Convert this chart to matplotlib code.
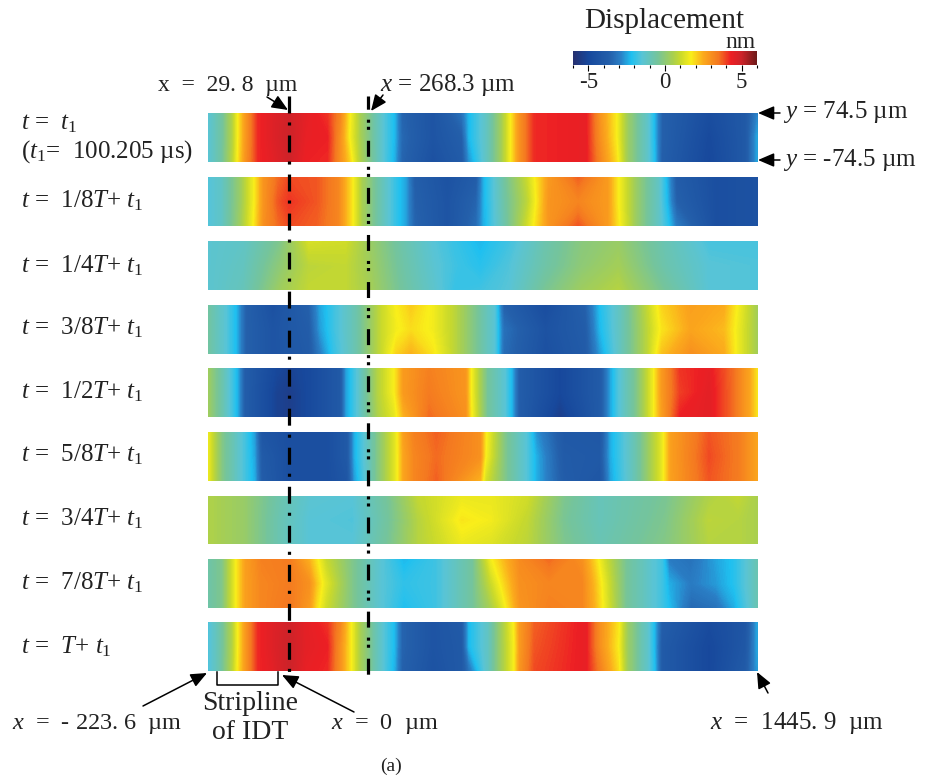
import numpy as np
import matplotlib
matplotlib.use("Agg")
import matplotlib.pyplot as plt
from matplotlib.colors import LinearSegmentedColormap, Normalize
from matplotlib.cm import ScalarMappable

plt.rcParams['font.family'] = ['Liberation Serif', 'DejaVu Serif']
plt.rcParams['mathtext.fontset'] = 'custom'
plt.rcParams['mathtext.rm'] = 'Liberation Serif'
plt.rcParams['mathtext.it'] = 'Liberation Serif:italic'
plt.rcParams['lines.scale_dashes'] = False

# positions along a strip, measured on the zoomed crops (22 = left edge, 1532 = right edge)
xs_1 = [22, 60, 90, 105, 125, 160, 200, 245, 290, 350, 385, 410, 440, 500, 535, 555, 640, 720, 740, 790, 830, 855, 880, 920, 1060, 1100, 1145, 1175, 1230, 1250, 1270, 1400, 1500, 1532]
mid_1 = [-1.5, -0.6, 0.7, 1.7, 2.8, 4.2, 4.6, 5.0, 4.4, 4.3, 3.0, 1.7, 0.5, -1.4, -2.3, -3.4, -4.3, -3.7, -2.3, -1.1, 0.4, 1.7, 3.0, 4.2, 4.4, 3.0, 1.7, 0.3, -1.3, -2.3, -3.6, -4.9, -4.0, -2.5]
top_1 = [-1.5, -0.6, 0.7, 1.7, 2.8, 4.2, 4.6, 4.9, 4.5, 4.1, 3.2, 1.8, 0.5, -1.4, -2.3, -3.5, -4.3, -3.2, -2.3, -1.1, 0.4, 1.7, 3.0, 4.2, 4.4, 2.9, 1.7, 0.3, -1.3, -2.3, -3.6, -4.7, -4.0, -2.9]
bot_1 = [-1.5, -0.6, 0.8, 1.8, 2.9, 4.2, 4.5, 4.9, 4.3, 4.2, 3.0, 2.1, 0.6, -1.4, -2.4, -3.5, -4.5, -3.9, -2.7, -1.1, 0.4, 1.7, 3.0, 4.2, 4.4, 3.2, 1.9, 0.3, -1.3, -2.2, -3.7, -5.0, -4.0, -2.5]

xs_2 = [22, 60, 110, 150, 175, 215, 245, 320, 380, 420, 445, 500, 540, 565, 590, 680, 760, 780, 840, 900, 925, 960, 1040, 1120, 1150, 1200, 1260, 1285, 1310, 1420, 1532]
mid_2 = [-1.6, -1.2, 0.2, 1.7, 2.9, 3.8, 4.1, 3.8, 3.2, 1.7, 0.5, -1.0, -2.0, -2.5, -3.6, -4.3, -3.5, -2.4, -0.6, 0.8, 1.7, 2.9, 3.2, 2.8, 1.7, 0.2, -1.2, -2.3, -3.6, -4.6, -4.4]
top_2 = [-1.6, -1.2, 0.2, 1.7, 2.9, 3.6, 3.9, 3.8, 3.2, 1.7, 0.5, -1.0, -2.0, -2.5, -3.7, -4.4, -3.8, -2.4, -0.5, 1.0, 1.8, 2.8, 3.7, 2.8, 1.7, 0.2, -1.2, -2.4, -3.8, -4.6, -4.4]
bot_2 = [-1.6, -1.2, 0.3, 1.8, 3.0, 3.6, 3.9, 3.7, 3.2, 1.7, 0.5, -1.0, -2.0, -2.5, -3.5, -4.3, -3.3, -2.4, -0.7, 1.1, 1.9, 2.9, 3.8, 2.8, 1.8, 0.2, -1.2, -2.0, -3.0, -4.6, -4.4]

xs_3 = [22, 120, 220, 300, 400, 470, 560, 640, 700, 770, 850, 950, 1050, 1150, 1280, 1400, 1532]
mid_3 = [-1.4, -1.1, 0.0, 0.8, 0.9, 0.3, -0.7, -1.4, -1.8, -2.1, -1.6, -0.7, 0.0, 0.4, -0.8, -1.5, -1.6]
top_3 = [-1.4, -1.2, -0.3, 1.2, 1.1, 0.2, -0.8, -1.5, -1.9, -2.3, -1.8, -0.8, -0.1, 0.2, -0.9, -1.7, -1.7]
bot_3 = [-1.4, -1.0, 0.3, 0.9, 0.9, 0.4, -0.6, -1.3, -1.9, -1.8, -1.5, -0.4, 0.3, 0.7, -0.5, -1.5, -1.6]

xs_4 = [22, 70, 100, 125, 200, 300, 330, 370, 430, 500, 540, 580, 640, 700, 760, 810, 835, 950, 1060, 1100, 1160, 1230, 1270, 1350, 1440, 1480, 1532]
mid_4 = [-0.6, -1.5, -2.3, -3.6, -4.3, -3.8, -2.6, -1.8, -0.8, 1.0, 1.6, 1.9, 1.6, 0.8, -0.4, -1.5, -3.2, -4.4, -3.8, -2.3, -1.0, 0.8, 1.8, 2.6, 2.3, 1.5, 0.4]
top_4 = [-0.6, -1.5, -2.3, -3.6, -4.5, -3.6, -2.5, -1.8, -0.8, 1.0, 1.7, 2.1, 1.6, 0.8, -0.4, -1.5, -3.6, -4.7, -3.6, -2.2, -1.0, 0.9, 2.0, 2.7, 2.5, 1.6, 0.4]
bot_4 = [-0.6, -1.5, -2.3, -3.6, -4.3, -3.9, -3.0, -1.9, -0.8, 1.0, 2.0, 2.4, 1.8, 0.8, -0.4, -1.5, -3.3, -4.5, -3.9, -2.6, -1.0, 0.8, 2.2, 3.0, 2.5, 1.5, 0.4]

xs_5 = [22, 60, 90, 105, 125, 210, 245, 300, 385, 400, 440, 490, 535, 560, 630, 730, 745, 790, 840, 860, 880, 990, 1100, 1130, 1150, 1200, 1245, 1270, 1320, 1400, 1470, 1510, 1532]
mid_5 = [0.3, -0.8, -1.8, -2.4, -3.8, -5.2, -5.4, -4.9, -4.0, -2.6, -1.2, 0.7, 1.7, 2.8, 3.4, 2.9, 1.7, -0.5, -1.5, -2.4, -3.8, -5.0, -3.9, -2.4, -1.6, -0.3, 1.5, 2.8, 4.0, 4.5, 3.5, 2.6, 1.8]
top_5 = [0.3, -0.8, -1.8, -2.4, -3.8, -5.0, -5.2, -4.9, -4.0, -2.6, -1.2, 0.7, 1.7, 2.8, 3.3, 2.9, 1.7, -0.5, -1.5, -2.4, -3.8, -5.0, -3.9, -2.4, -1.6, -0.3, 1.5, 2.8, 4.1, 4.4, 3.5, 2.6, 1.8]
bot_5 = [0.3, -0.8, -1.8, -2.4, -3.8, -5.2, -5.4, -4.9, -4.0, -2.6, -1.2, 0.6, 1.4, 2.4, 3.6, 3.0, 1.8, -0.5, -1.5, -2.4, -3.8, -5.4, -3.9, -2.4, -1.6, -0.3, 1.5, 2.7, 4.3, 4.5, 3.5, 2.6, 1.8]

xs_6 = [22, 60, 125, 150, 170, 245, 350, 405, 425, 480, 540, 560, 590, 650, 770, 785, 840, 900, 925, 1000, 1100, 1130, 1200, 1270, 1295, 1400, 1480, 1532]
mid_6 = [1.5, -0.2, -1.8, -2.5, -3.9, -4.6, -4.6, -4.0, -2.4, -0.5, 1.5, 2.6, 3.2, 3.6, 3.0, 1.7, -0.3, -1.6, -2.4, -3.9, -4.0, -2.4, -0.8, 1.4, 2.7, 3.9, 3.4, 2.6]
top_6 = [1.5, -0.2, -1.8, -2.6, -4.2, -4.6, -4.6, -4.0, -2.4, -0.5, 1.5, 2.7, 3.3, 3.7, 3.0, 1.8, -0.3, -1.6, -2.7, -4.0, -4.1, -2.4, -0.8, 1.4, 2.7, 3.8, 3.4, 2.6]
bot_6 = [1.5, -0.2, -1.8, -2.4, -3.8, -4.6, -4.6, -4.2, -2.6, -0.5, 1.5, 2.6, 3.2, 3.7, 2.4, 1.2, -0.3, -1.6, -2.4, -3.8, -4.2, -2.5, -0.8, 1.4, 2.7, 3.8, 3.4, 2.6]

xs_7 = [22, 120, 220, 300, 420, 520, 600, 720, 800, 900, 1000, 1100, 1280, 1400, 1480, 1532]
mid_7 = [0.6, 0.2, -0.9, -1.5, -1.6, -0.5, 0.7, 1.8, 1.6, 0.9, -0.4, -1.0, -0.3, 0.8, 0.7, 0.5]
top_7 = [0.6, 0.2, -0.8, -1.4, -1.5, -0.4, 0.9, 1.5, 1.5, 1.1, -0.3, -1.0, -0.4, 0.6, 0.9, 0.5]
bot_7 = [0.6, 0.2, -0.9, -1.5, -1.5, -0.4, 0.7, 1.5, 1.3, 0.8, -0.3, -0.9, -0.2, 0.7, 0.7, 0.5]

xs_8 = [22, 60, 100, 125, 170, 245, 300, 320, 345, 420, 500, 560, 650, 750, 800, 830, 880, 960, 1050, 1085, 1110, 1170, 1270, 1290, 1350, 1420, 1470, 1532]
mid_8 = [-0.7, -0.3, 1.7, 2.7, 3.2, 3.4, 3.0, 2.2, 1.4, -0.3, -1.5, -2.0, -1.8, -0.5, 1.0, 1.8, 3.0, 3.2, 3.2, 2.3, 1.5, -0.4, -1.8, -2.4, -3.0, -2.6, -2.1, -0.9]
top_8 = [-0.7, -0.3, 1.7, 2.7, 3.3, 3.4, 2.4, 1.8, 1.0, -0.3, -1.5, -2.3, -1.8, -0.5, 1.6, 2.2, 3.1, 3.6, 3.0, 2.0, 1.2, -0.4, -1.8, -3.0, -3.2, -2.5, -2.1, -0.9]
bot_8 = [-0.7, -0.3, 1.7, 2.7, 3.2, 3.5, 2.8, 1.9, 1.1, -0.3, -1.5, -2.2, -1.8, -0.5, 0.5, 1.3, 2.9, 3.3, 3.2, 2.4, 1.6, -0.4, -1.8, -2.2, -3.4, -3.2, -2.4, -0.9]

xs_9 = [22, 60, 90, 105, 125, 160, 200, 245, 290, 350, 385, 415, 440, 500, 535, 555, 640, 720, 740, 790, 830, 865, 880, 920, 1060, 1100, 1150, 1175, 1230, 1250, 1270, 1400, 1500, 1532]
mid_9 = [-1.7, -0.6, 0.7, 1.7, 2.8, 4.2, 4.6, 5.0, 4.5, 4.3, 3.0, 1.7, 0.5, -1.4, -2.3, -3.5, -4.3, -4.0, -2.3, -1.2, 0.4, 1.7, 2.8, 3.8, 4.4, 3.0, 1.7, 0.3, -1.3, -2.3, -3.9, -5.0, -4.1, -2.5]
top_9 = [-1.7, -0.6, 0.7, 1.7, 2.8, 4.2, 4.6, 4.9, 4.5, 4.1, 3.2, 1.7, 0.5, -1.4, -2.3, -3.5, -4.3, -3.9, -2.3, -1.2, 0.4, 1.8, 2.8, 3.7, 4.4, 3.0, 1.8, 0.3, -1.3, -2.3, -3.7, -4.8, -4.2, -2.5]
bot_9 = [-1.7, -0.6, 0.8, 1.8, 2.8, 4.2, 4.5, 5.0, 4.4, 4.2, 3.0, 1.7, 0.5, -1.4, -2.4, -3.6, -4.4, -4.0, -3.2, -1.2, 0.4, 1.7, 2.9, 3.9, 4.4, 3.3, 1.9, 0.3, -1.3, -2.2, -3.9, -5.0, -3.9, -2.6]

strip_tops = [113, 177, 241.5, 305, 368, 432, 496, 559, 622]
strip_bots = [162, 226, 290, 353.5, 417, 480.5, 544, 608, 671]

time_labels = [r"$t$ =  $t_{\mathrm{1}}$",
               r"$t$ =  1/8$T$+ $t_{\mathrm{1}}$",
               r"$t$ =  1/4$T$+ $t_{\mathrm{1}}$",
               r"$t$ =  3/8$T$+ $t_{\mathrm{1}}$",
               r"$t$ =  1/2$T$+ $t_{\mathrm{1}}$",
               r"$t$ =  5/8$T$+ $t_{\mathrm{1}}$",
               r"$t$ =  3/4$T$+ $t_{\mathrm{1}}$",
               r"$t$ =  7/8$T$+ $t_{\mathrm{1}}$",
               r"$t$ =  $T$+ $t_{\mathrm{1}}$"]
label_baselines = [129, 207, 272, 334, 398, 461, 525, 589, 653]

cmap_vals = [-6, -5, -3.6, -2.9, -2.2, -1.5, -0.5, 0.5, 1.0, 1.7, 2.5, 3.5, 4.3, 5, 6]
cmap_cols = ['#27306f', '#17489c', '#2460ab', '#2a7fc6', '#1fc0f0', '#58c4d6', '#74c49c',
             '#a8cf50', '#c8d92c', '#f9ee1a', '#fbaa1c', '#f47720', '#ed1f24', '#cc2329', '#6d1a1a']

cmap = LinearSegmentedColormap.from_list(
    "disp", [((v + 6) / 12, c) for v, c in zip(cmap_vals, cmap_cols)], N=512)
norm = Normalize(-6, 6)
levels = np.linspace(-6, 6, 289)

fig = plt.figure(figsize=(9.25, 7.81), dpi=100)
ax = fig.add_axes([0, 0, 1, 1])
ax.set_xlim(0, 925)
ax.set_ylim(781, 0)
ax.axis('off')

strips = [(xs_1, top_1, mid_1, bot_1), (xs_2, top_2, mid_2, bot_2), (xs_3, top_3, mid_3, bot_3),
          (xs_4, top_4, mid_4, bot_4), (xs_5, top_5, mid_5, bot_5), (xs_6, top_6, mid_6, bot_6),
          (xs_7, top_7, mid_7, bot_7), (xs_8, top_8, mid_8, bot_8), (xs_9, top_9, mid_9, bot_9)]

for (xs, top, mid, bot), y0, y1 in zip(strips, strip_tops, strip_bots):
    px = 200 + np.array(xs) / 2.75
    ax.contourf(px, [y0, (y0 + y1) / 2, y1], [top, mid, bot], levels=levels,
                cmap=cmap, norm=norm, antialiased=False)

# the two marker lines
ax.plot([289, 289], [96, 680], color='black', lw=2.3, dash_capstyle='butt',
        linestyle=(0, (12.2, 6.5, 2.2, 7.2)))
ax.plot([367.5, 367.5], [96, 682], color='black', lw=2.3, dash_capstyle='butt',
        linestyle=(2, (11.5, 7.2, 2.2, 2.9, 2.2, 7.9)))

# colour bar
cax = fig.add_axes([573 / 925, 1 - 65 / 781, 184 / 925, 14 / 781])
cb = fig.colorbar(ScalarMappable(norm=norm, cmap=cmap), cax=cax, orientation='horizontal', ticks=[-5, 0, 5])
cb.outline.set_visible(False)
cb.set_ticks([-6, -4, -3, -2, -1, 1, 2, 3, 4, 6], minor=True)
cax.tick_params(which='major', length=4, width=0.8, pad=1, labelsize=16.5, labelcolor='#222222')
cax.tick_params(which='minor', length=2, width=0.8)
cax.set_xticklabels(['-5', '0', '5'])

tc = '#222222'
fs = 18
ax.text(664, 28, "Displacement", fontsize=21, ha='center', va='baseline', color=tc)
ax.text(740, 48, "nm", fontsize=17, ha='center', va='baseline', color=tc)

for lab, y in zip(time_labels, label_baselines):
    ax.text(21, y, lab, fontsize=fs, ha='left', va='baseline', color=tc)
ax.text(21, 158, r"($t_{\mathrm{1}}$=  100.205 µs)", fontsize=fs, ha='left', va='baseline', color=tc)

ax.text(158, 91, "x  =  29. 8  µm", fontsize=17, ha='left', va='baseline', color=tc)
ax.text(380, 91, r"$x$ = 268.3 µm", fontsize=fs, ha='left', va='baseline', color=tc)
ax.text(783, 118, r"$y$ = 74.5 µm", fontsize=fs, ha='left', va='baseline', color=tc)
ax.text(783, 166, r"$y$ = -74.5 µm", fontsize=fs, ha='left', va='baseline', color=tc)
ax.text(12, 729, r"$x$  =  - 223. 6  µm", fontsize=17.5, ha='left', va='baseline', color=tc)
ax.text(331, 729, r"$x$  =  0  µm", fontsize=17.5, ha='left', va='baseline', color=tc)
ax.text(710, 729, r"$x$  =  1445. 9  µm", fontsize=fs, ha='left', va='baseline', color=tc)
ax.text(250, 710, "Stripline", fontsize=20, ha='center', va='baseline', color=tc)
ax.text(250, 739, "of IDT", fontsize=20, ha='center', va='baseline', color=tc)
ax.text(391, 771, "(a)", fontsize=14, ha='center', va='baseline', color=tc)

# bracket under the IDT
ax.plot([217, 217, 278, 278], [672, 685, 685, 672], color='black', lw=1.1)

arrows = [((267, 97), (288, 110)), ((383, 95), (371, 111)),
          ((780, 113), (758, 113)), ((780, 160), (758, 160)),
          ((143, 706), (207, 673)), ((354, 712), (282, 675)), ((768, 693), (757, 672))]
for tail, head in arrows:
    ax.annotate("", xy=head, xytext=tail,
                arrowprops=dict(arrowstyle="-|>,head_length=0.7,head_width=0.3", color='black',
                                lw=1.1, shrinkA=0, shrinkB=0, mutation_scale=14))

fig.savefig("out.png", dpi=100)
